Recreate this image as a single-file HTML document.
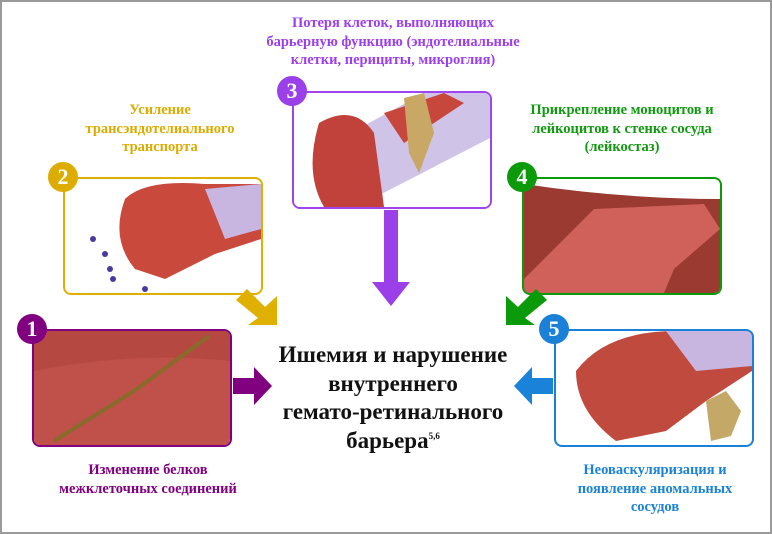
<!DOCTYPE html>
<html><head><meta charset="utf-8"><style>
body{margin:0;width:772px;height:534px;overflow:hidden;background:#fff;font-family:"Liberation Serif",serif}
.frame{position:absolute;left:0;top:0;width:768px;height:530px;border:2px solid #9a9a9a}
.box{position:absolute;width:196px;height:114px;border:2px solid;border-radius:8px;background:#fff;overflow:hidden}
.num{position:absolute;width:30px;height:30px;border-radius:50%;color:#fff;font-weight:bold;font-size:22px;text-align:center;line-height:30px}
.lab{position:absolute;font-weight:bold;font-size:14.5px;line-height:18.5px;text-align:center;white-space:nowrap}
.c{position:absolute;left:240px;width:306px;top:341px;text-align:center;font-weight:bold;font-size:23px;line-height:28.5px;color:#111}
sup{font-size:9px;line-height:0;vertical-align:9px}
</style></head><body>
<div class="frame"></div>

<div class="lab" style="left:230px;width:326px;top:14px;color:#9b3ff0">Потеря клеток, выполняющих<br>барьерную функцию (эндотелиальные<br>клетки, перициты, микроглия)</div>
<div class="lab" style="left:50px;width:220px;top:101px;color:#dcac00">Усиление<br>трансэндотелиального<br>транспорта</div>
<div class="lab" style="left:500px;width:244px;top:101px;color:#119a11">Прикрепление моноцитов и<br>лейкоцитов к стенке сосуда<br>(лейкостаз)</div>
<div class="lab" style="left:30px;width:236px;top:461px;color:#800080">Изменение белков<br>межклеточных соединений</div>
<div class="lab" style="left:540px;width:230px;top:461px;color:#1a82d8">Неоваскуляризация и<br>появление аномальных<br>сосудов</div>

<div class="box" style="left:292px;top:91px;border-color:#a044f0">
<svg width="196" height="114"><rect width="196" height="114" fill="#fff"/><path d="M20 60 L130 0 L196 0 L196 45 L70 110 L30 114Z" fill="#cfc3e8"/><path d="M25 30 Q60 10 80 40 L90 114 L30 114 Q10 80 25 30Z" fill="#c0423a"/><path d="M90 20 L150 0 L170 10 L110 50Z" fill="#c8473c"/><path d="M110 5 l20 -5 l10 40 l-15 40 l-10 -20z" fill="#c9a865"/></svg></div>
<div class="box" style="left:63px;top:177px;border-color:#e0b000">
<svg width="196" height="114"><path d="M60 20 Q80 0 140 5 L196 5 L196 60 L150 75 L100 100 L70 90 Q45 60 60 20Z" fill="#c9493d"/><path d="M140 10 L196 5 L196 50 L160 60Z" fill="#c9b6e0"/><g fill="#4a3aa0"><circle cx="28" cy="60" r="3"/><circle cx="40" cy="75" r="3"/><circle cx="45" cy="90" r="3"/><circle cx="80" cy="110" r="3"/><circle cx="48" cy="100" r="3"/></g></svg></div>
<div class="box" style="left:522px;top:177px;border-color:#0a9a0a">
<svg width="196" height="114"><rect width="196" height="114" fill="#9a3a30"/><path d="M0 100 L70 30 L180 25 L196 50 L150 90 L140 114 L0 114Z" fill="#d0605a"/><path d="M0 0 L196 0 L196 20 Q100 20 0 5Z" fill="#fff"/></svg></div>
<div class="box" style="left:32px;top:329px;border-color:#800080">
<svg width="196" height="114"><rect width="196" height="114" fill="#c0504a"/><path d="M0 0 L196 0 L196 30 Q100 20 0 40Z" fill="#b64842"/><path d="M20 110 L100 60 L175 5" stroke="#8a6a2a" stroke-width="4" fill="none"/></svg></div>
<div class="box" style="left:554px;top:329px;border-color:#1a80d8">
<svg width="196" height="114"><path d="M20 40 Q50 0 120 0 L196 0 L196 40 L150 70 L110 100 L60 110 Q20 80 20 40Z" fill="#c04a3e"/><path d="M110 0 L196 0 L196 35 L140 40Z" fill="#c9b6e0"/><path d="M150 70 l20 -10 l15 20 l-10 25 l-20 5z" fill="#c4a868"/></svg></div>

<div class="num" style="left:277px;top:76px;background:#9b40e8">3</div>
<div class="num" style="left:48px;top:162px;background:#dcac00">2</div>
<div class="num" style="left:507px;top:162px;background:#0a9a0a">4</div>
<div class="num" style="left:17px;top:314px;background:#800080">1</div>
<div class="num" style="left:539px;top:314px;background:#1a80d8">5</div>

<svg style="position:absolute;left:0;top:0" width="772" height="534">
<polygon points="384,210 398,210 398,282 410,282 391,306 372,282 384,282" fill="#9b40e8"/>
<polygon points="236,300 247,289 265,307 277,296 277,325 248,325 258,318" fill="#e0b000"/>
<polygon points="547,300 536,289 518,307 506,296 506,325 535,325 525,318" fill="#0a9a0a"/>
<polygon points="233,378 254,378 254,367 272,386 254,405 254,394 233,394" fill="#800080"/>
<polygon points="553,378 532,378 532,367 514,386 532,405 532,394 553,394" fill="#1a82d8"/>
</svg>

<div class="c">Ишемия и нарушение<br>внутреннего<br>гемато-ретинального<br>барьера<sup>5,6</sup></div>
</body></html>
